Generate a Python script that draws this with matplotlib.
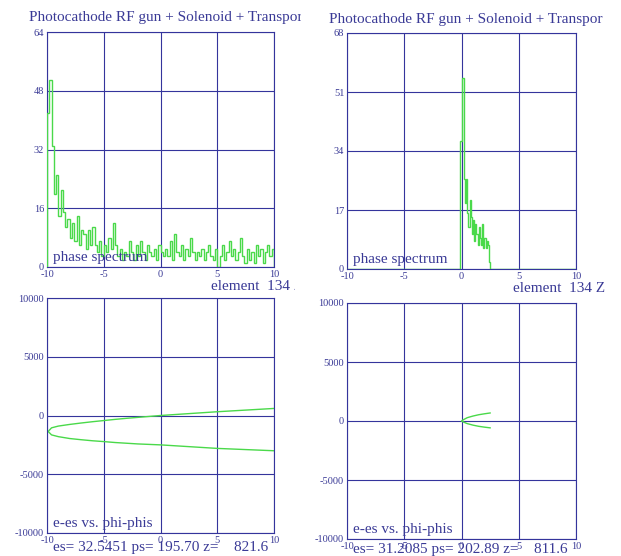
import numpy as np
import matplotlib
matplotlib.use("Agg")
import matplotlib.pyplot as plt
from matplotlib.transforms import Bbox, TransformedBbox

NAVY = "#34349c"
TEXT = "#3a3a96"
GREEN = "#4ad94a"
FONT = "Liberation Serif"

# phase spectrum, left run (100 bins of 0.2 over -10..10)
spec_left = [42, 51, 33, 20, 25, 14, 21, 15, 11, 13,
             8, 12, 7, 14, 6, 10, 9, 5, 10, 6,
             11, 6, 4, 7, 3, 6, 4, 8, 5, 12,
             6, 3, 5, 2, 4, 3, 7, 4, 2, 6,
             3, 7, 4, 2, 6, 4, 3, 5, 2, 6,
             4, 3, 5, 3, 7, 2, 9, 4, 3, 6,
             2, 5, 3, 8, 4, 2, 4, 3, 5, 2,
             4, 6, 3, 2, 5, 0, 3, 6, 2, 4,
             7, 3, 5, 2, 4, 8, 3, 1, 5, 2,
             4, 1, 6, 3, 5, 1, 4, 6, 3, 5]

# phase spectrum, right run (bins of 0.1, first one starts at -0.1)
spec_right_start = -0.1
spec_right = [37, 55, 55, 26, 19, 26, 16, 12, 20, 15,
              10, 14, 8, 13, 10, 7, 12, 9, 7, 13,
              6, 9, 6, 8, 7, 2]

# longitudinal phase space, left run (lower branch then upper branch)
ps_left_phi = [10, 7.5, 5, 2.5, 0, -1, -2, -3, -4, -5, -6, -7, -8, -9, -9.6, -9.9,
               -9.6, -9, -8, -7, -6, -5, -4, -3, -2, -1, 0, 2.5, 5, 7.5, 10]
ps_left_de = [-3000, -2900, -2800, -2650, -2500, -2460, -2420, -2360, -2300, -2220,
              -2150, -2060, -1960, -1800, -1650, -1360,
              -1050, -900, -760, -640, -530, -430, -330, -240, -160, -80,
              0, 160, 320, 460, 600]

# longitudinal phase space, right run
ps_right_phi = [2.5, 2, 1.5, 1, 0.5, 0.15, 0, 0.15, 0.5, 1, 1.5, 2, 2.5]
ps_right_de = [-580, -520, -450, -350, -220, -80, 0, 100, 280, 420, 530, 610, 680]

spec_ymax = [64, 68]
titles = ["Photocathode RF gun + Solenoid + Transport line",
          "Photocathode RF gun + Solenoid + Transport line"]
footers = ["es= 32.5451 ps= 195.70 z=    821.6",
           "es= 31.2085 ps= 202.89 z=    811.6"]
x_ticks = [-10, -5, 0, 5, 10]
de_ticks = [-10000, -5000, 0, 5000, 10000]


def style(ax, yticks):
    ax.set_xlim(-10, 10)
    ax.set_ylim(yticks[0], yticks[-1])
    ax.set_xticks(x_ticks)
    ax.set_yticks(yticks)
    ax.set_xticklabels([str(v) for v in x_ticks])
    ax.set_yticklabels([str(v) for v in yticks])
    ax.grid(True, color=NAVY, linewidth=0.8)
    ax.set_axisbelow(True)
    for s in ax.spines.values():
        s.set_color(NAVY)
        s.set_linewidth(0.8)
    ax.tick_params(length=0, pad=2, labelsize=7.5, labelcolor=TEXT)
    for lab in ax.get_xticklabels() + ax.get_yticklabels():
        lab.set_family(FONT)


def clipped_text(fig, x, y, s, right_px):
    t = fig.text(x / 621, 1 - y / 556, s, ha="left", va="center",
                 family=FONT, fontsize=11, color=TEXT)
    t.set_clip_box(TransformedBbox(Bbox([[0, 0], [right_px / 621, 1]]), fig.transFigure))
    t.set_clip_on(True)
    return t


fig = plt.figure(figsize=(6.21, 5.56), dpi=100)

ax_tl = fig.add_axes([47 / 621, 1 - 267 / 556, 227 / 621, 235 / 556])
ax_tr = fig.add_axes([347 / 621, 1 - 269 / 556, 229 / 621, 236 / 556])
ax_bl = fig.add_axes([47 / 621, 1 - 533 / 556, 227 / 621, 235 / 556])
ax_br = fig.add_axes([347 / 621, 1 - 539 / 556, 229 / 621, 236 / 556])

# spectra
edges_l = np.linspace(-10, 10, len(spec_left) + 1)
ax_tl.stairs(spec_left, edges_l, color=GREEN, linewidth=1.0, baseline=0, zorder=3)

full_r = np.zeros(200)
i0 = int(round((spec_right_start + 10) / 0.1))
full_r[i0:i0 + len(spec_right)] = spec_right
edges_r = np.linspace(-10, 10, 201)
ax_tr.stairs(full_r, edges_r, color=GREEN, linewidth=1.0, baseline=0, zorder=3)

# phase space
ax_bl.plot(ps_left_phi, ps_left_de, color=GREEN, linewidth=1.0)
ax_br.plot(ps_right_phi, ps_right_de, color=GREEN, linewidth=1.0)

for ax, ym in zip([ax_tl, ax_tr], spec_ymax):
    style(ax, list(np.linspace(0, ym, 5).astype(int)))
for ax in [ax_bl, ax_br]:
    style(ax, de_ticks)

ax_tl.text(0.025, 0.04, "phase spectrum", transform=ax_tl.transAxes,
           family=FONT, fontsize=11, color=TEXT, va="center", zorder=4)
ax_tr.text(0.025, 0.04, "phase spectrum", transform=ax_tr.transAxes,
           family=FONT, fontsize=11, color=TEXT, va="center", zorder=4)
ax_bl.text(0.025, 0.04, "e-es vs. phi-phis", transform=ax_bl.transAxes,
           family=FONT, fontsize=11, color=TEXT, va="center")
ax_br.text(0.025, 0.04, "e-es vs. phi-phis", transform=ax_br.transAxes,
           family=FONT, fontsize=11, color=TEXT, va="center")

# headers and footers, cut at the panel edge like the original screen grab
clipped_text(fig, 29, 18, titles[0], 301)
clipped_text(fig, 329, 20, titles[1], 603)
clipped_text(fig, 211, 286, "element  134 Z", 295)
clipped_text(fig, 513, 288, "element  134 Z", 608)
clipped_text(fig, 53, 547, footers[0], 621)
clipped_text(fig, 353, 550, footers[1], 621)

fig.savefig("out.png", dpi=100)
